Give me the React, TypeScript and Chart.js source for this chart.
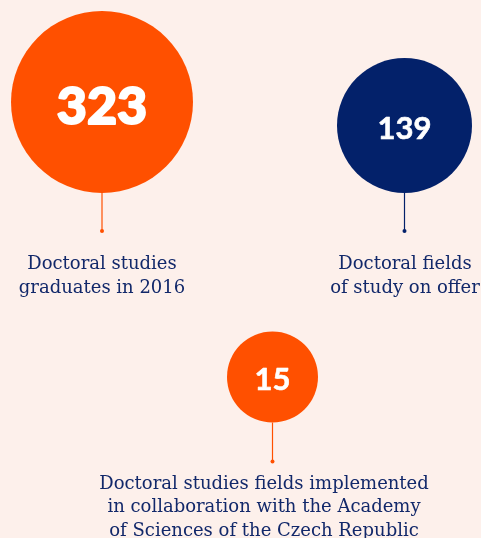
import React, { useEffect, useRef } from "react";
import { Chart, registerables } from "chart.js";

Chart.register(...registerables);

const W = 481;
const H = 538;

// data
const values = [323, 139, 15];
const labels: string[][] = [
  ["Doctoral studies", "graduates in 2016"],
  ["Doctoral fields", "of study on offer"],
  [
    "Doctoral studies fields implemented",
    "in collaboration with the Academy",
    "of Sciences of the Czech Republic",
  ],
];

// layout (positions / sizes / styles)
const centersX = [102, 404.5, 272.5];
const centersY = [102, 125.5, 377];
const radii = [91, 67.5, 45.5];
const colors = ["#FF5000", "#03216A", "#FF5000"];
const numberSizes = [52, 31, 31];
const numberWeights = [900, 700, 700];
const numberStroke = [2, 0.6, 0.6];
const stemLen = [38, 38, 39];
const labelGap = [38, 38, 27];
const labelX = [102, 405, 264];

const BG = "#FDF0EB";
const TEXT = "#12286A";

export default function App() {
  const ref = useRef<HTMLCanvasElement | null>(null);

  useEffect(() => {
    document.body.style.margin = "0";
    const canvas = ref.current!;
    const overlay = {
      id: "overlay",
      afterDatasetsDraw(chart: any) {
        const ctx = chart.ctx as CanvasRenderingContext2D;
        const meta = chart.getDatasetMeta(0);
        meta.data.forEach((el: any, i: number) => {
          const cx = el.x;
          const cy = el.y;
          const r = el.options.radius;
          // number
          ctx.save();
          ctx.fillStyle = "#FFFFFF";
          ctx.strokeStyle = "#FFFFFF";
          ctx.lineJoin = "round";
          ctx.lineWidth = numberStroke[i];
          ctx.textAlign = "center";
          ctx.textBaseline = "alphabetic";
          ctx.font = `${numberWeights[i]} ${numberSizes[i]}px Lato, "Open Sans", sans-serif`;
          const ny = cy + numberSizes[i] * 0.4 + 1;
          ctx.fillText(String(values[i]), cx, ny);
          ctx.strokeText(String(values[i]), cx, ny);
          // stem
          const y0 = cy + r;
          const y1 = y0 + stemLen[i];
          ctx.strokeStyle = colors[i];
          ctx.lineWidth = 1.2;
          ctx.beginPath();
          ctx.moveTo(cx, y0);
          ctx.lineTo(cx, y1);
          ctx.stroke();
          ctx.fillStyle = colors[i];
          ctx.beginPath();
          ctx.arc(cx, y1, 2, 0, Math.PI * 2);
          ctx.fill();
          // label
          ctx.fillStyle = TEXT;
          ctx.font = `18px "DejaVu Serif", serif`;
          const lx = chart.scales.x.getPixelForValue(labelX[i]);
          labels[i].forEach((line, j) => {
            ctx.fillText(line, lx, y1 + labelGap[i] + j * 23.5);
          });
          ctx.restore();
        });
      },
    };

    const chart = new Chart(canvas, {
      type: "bubble",
      data: {
        datasets: [
          {
            data: values.map((v, i) => ({ x: centersX[i], y: centersY[i], r: radii[i], v })),
            backgroundColor: colors,
            borderWidth: 0,
            hoverRadius: 0,
            clip: false as any,
          },
        ],
      },
      options: {
        responsive: false,
        animation: false,
        layout: { padding: 0, autoPadding: false },
        plugins: { legend: { display: false }, tooltip: { enabled: false } },
        events: [],
        scales: {
          x: { type: "linear", min: 0, max: W, display: false },
          y: { type: "linear", min: 0, max: H, reverse: true, display: false },
        },
      },
      plugins: [overlay],
    });
    return () => chart.destroy();
  }, []);

  return (
    <div style={{ position: "fixed", left: 0, top: 0, width: W, height: H, background: BG }}>
      <canvas ref={ref} width={W} height={H} style={{ display: "block" }} />
    </div>
  );
}
